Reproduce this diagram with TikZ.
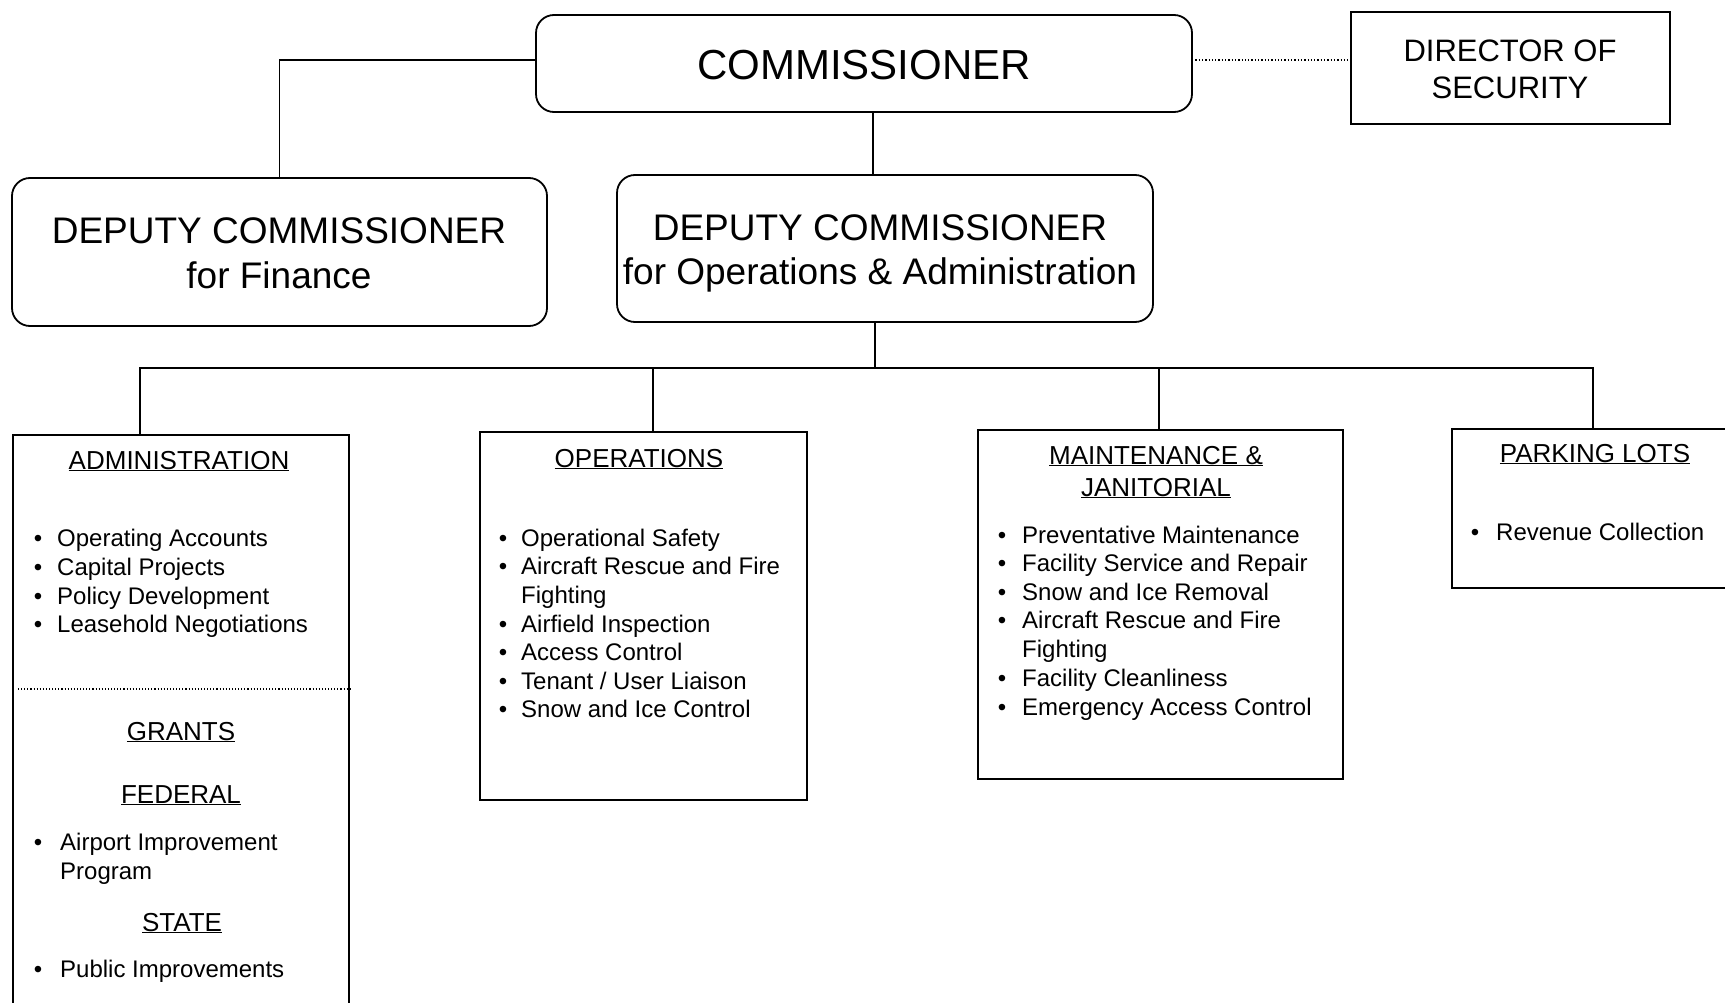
\documentclass[tikz,border=0pt]{standalone}
\usepackage{fontspec}
\setmainfont{Liberation Sans}
\newcommand\fs[1]{\fontsize{#1}{#1}\selectfont}
\begin{document}
\begin{tikzpicture}[x=1pt,y=-1pt,
  rbox/.style={draw,line width=1.8pt,rounded corners=18pt,inner sep=0pt},
  sbox/.style={draw,line width=2pt,inner sep=0pt},
  conn/.style={line width=1.7pt},
  hd/.style={inner sep=0pt,anchor=base,font=\fs{26}},
  itm/.style={inner sep=0pt,anchor=base west,font=\fs{24}},
  bul/.style={inner sep=0pt,anchor=base,font=\fs{24}}]
\clip (0,0) rectangle (1725,1003);
\fill[white] (0,0) rectangle (1725,1003);
% top level boxes
\node[rbox,minimum width=656pt,minimum height=97pt] (comm) at (864,63.5) {};
\node[inner sep=0pt,anchor=base,font=\fs{42}] (commt) at (864,80) {COMMISSIONER};
\node[sbox,minimum width=319pt,minimum height=112pt] (dir) at (1510.5,68) {};
\node[inner sep=0pt,anchor=base,font=\fs{31}] (dirt1) at (1510,62) {DIRECTOR OF};
\node[inner sep=0pt,anchor=base,font=\fs{31}] (dirt2) at (1510,99) {SECURITY};
\node[rbox,minimum width=535pt,minimum height=148pt] (fin) at (279.5,252) {};
\node[inner sep=0pt,anchor=base,font=\fs{37}] (fint1) at (279,244) {DEPUTY COMMISSIONER};
\node[inner sep=0pt,anchor=base,font=\fs{37}] (fint2) at (279,288) {for Finance};
\node[rbox,minimum width=536pt,minimum height=147pt] (dops) at (885,248.5) {};
\node[inner sep=0pt,anchor=base,font=\fs{37}] (dopst1) at (880,241) {DEPUTY COMMISSIONER};
\node[inner sep=0pt,anchor=base,font=\fs{37}] (dopst2) at (880,285) {for Operations \& Administration};
% connectors at top
\coordinate (cl) at (536,60);
\draw[conn] (cl) -| (fin.north);
\coordinate (cr) at (1192,60);
\draw[line width=1.3pt,dotted] (cr) -- (cr -| dir.west);
\coordinate (c1) at (873,112);
\draw[conn] (c1) -- (c1 |- dops.north);
% department boxes
\node[sbox,minimum width=336pt,minimum height=600pt,anchor=north west] (adm) at (12,434) {};
\node[sbox,minimum width=327pt,minimum height=368pt,anchor=north west] (ops) at (479,431) {};
\node[sbox,minimum width=365pt,minimum height=349pt,anchor=north west] (mnt) at (977,429) {};
\node[sbox,minimum width=300pt,minimum height=159pt,anchor=north west] (prk) at (1451,428) {};
% bus
\coordinate (b0) at (875,322);
\coordinate (bus) at (875,368);
\draw[conn] (b0) -- (bus);
\draw[conn] (adm.north -| 140,0) |- (bus) -| (prk.north -| 1593,0);
\draw[conn] (653,368) -- (ops.north -| 653,0);
\draw[conn] (1159,368) -- (mnt.north -| 1159,0);
% administration content
\node[hd] (admh) at (179,469) {\underline{ADMINISTRATION}};
\foreach \y/\t [count=\i] in {546.5/{Operating Accounts},575/{Capital Projects},604/{Policy Development},632/{Leasehold Negotiations}}{
  \node[bul] (admb\i) at (38,\y) {\textbullet};
  \node[itm] (admi\i) at (57,\y) {\t};
}
\coordinate (dl) at (18,689);
\draw[line width=1.1pt,dotted] (dl) -- (dl -| adm.east);
\node[hd] (grh) at (181,740) {\underline{GRANTS}};
\node[hd] (fedh) at (181,803) {\underline{FEDERAL}};
\node[bul] (fedb) at (38,850) {\textbullet};
\node[itm] (fedi1) at (60,850) {Airport Improvement};
\node[itm] (fedi2) at (60,879) {Program};
\node[hd] (sth) at (182,931) {\underline{STATE}};
\node[bul] (stb) at (38,977) {\textbullet};
\node[itm] (sti) at (60,977) {Public Improvements};
% operations content
\node[hd] (opsh) at (639,467) {\underline{OPERATIONS}};
\foreach \y/\t/\b [count=\i] in {546/{Operational Safety}/1,574/{Aircraft Rescue and Fire}/1,603/{Fighting}/0,632/{Airfield Inspection}/1,660/{Access Control}/1,689/{Tenant / User Liaison}/1,717/{Snow and Ice Control}/1}{
  \ifnum\b=1 \node[bul] (opsb\i) at (503,\y) {\textbullet};\fi
  \node[itm] (opsi\i) at (521,\y) {\t};
}
% maintenance content
\node[hd] (mnth1) at (1156,464) {\underline{MAINTENANCE \&}};
\node[hd] (mnth2) at (1156,496) {\underline{JANITORIAL}};
\foreach \y/\t/\b [count=\i] in {543/{Preventative Maintenance}/1,571/{Facility Service and Repair}/1,600/{Snow and Ice Removal}/1,628/{Aircraft Rescue and Fire}/1,657/{Fighting}/0,686/{Facility Cleanliness}/1,715/{Emergency Access Control}/1}{
  \ifnum\b=1 \node[bul] (mntb\i) at (1002,\y) {\textbullet};\fi
  \node[itm] (mnti\i) at (1022,\y) {\t};
}
% parking content
\node[hd] (prkh) at (1595,462) {\underline{PARKING LOTS}};
\node[bul] (prkb) at (1475,540) {\textbullet};
\node[itm] (prki) at (1496,540) {Revenue Collection};
\end{tikzpicture}
\end{document}
